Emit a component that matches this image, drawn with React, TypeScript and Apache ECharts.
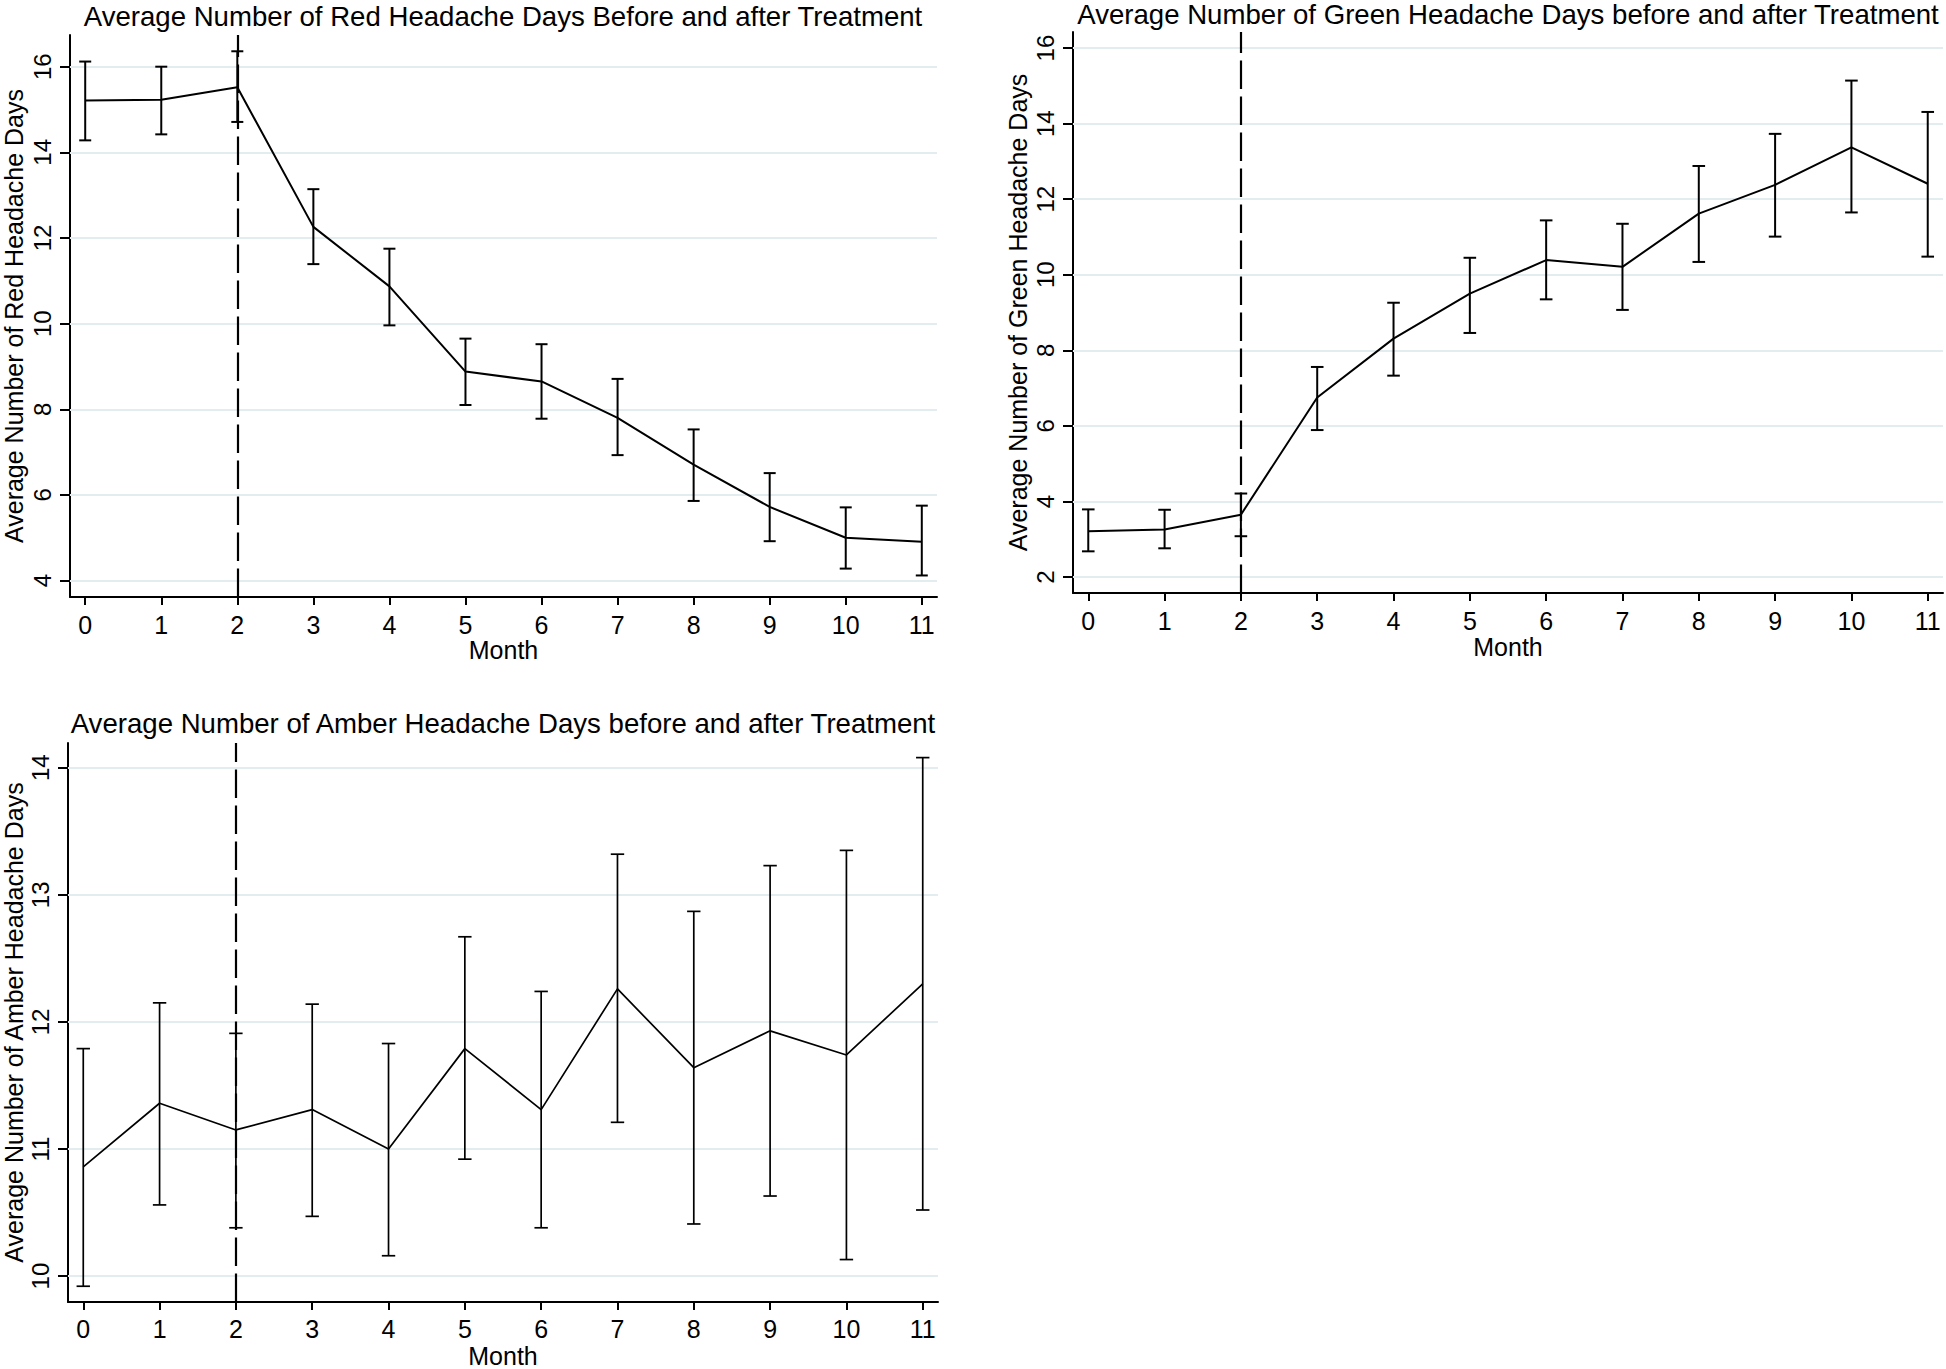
import React, { useEffect, useRef } from "react";
import * as echarts from "echarts";

const months = [0, 1, 2, 3, 4, 5, 6, 7, 8, 9, 10, 11];
const treatmentMonth = 2;

const redMean = [15.21, 15.23, 15.52, 12.26, 10.87, 8.88, 8.65, 7.8, 6.71, 5.72, 5.0, 4.91];
const redUpper = [16.12, 16.0, 16.36, 13.14, 11.75, 9.65, 9.52, 8.71, 7.53, 6.51, 5.71, 5.75];
const redLower = [14.28, 14.42, 14.71, 11.39, 9.96, 8.1, 7.78, 6.93, 5.86, 4.92, 4.28, 4.12];

const greenMean = [3.21, 3.26, 3.65, 6.75, 8.31, 9.5, 10.39, 10.21, 11.62, 12.38, 13.37, 12.41];
const greenUpper = [3.79, 3.78, 4.21, 7.56, 9.26, 10.45, 11.44, 11.35, 12.88, 13.73, 15.14, 14.31];
const greenLower = [2.68, 2.76, 3.08, 5.89, 7.33, 8.46, 9.35, 9.07, 10.34, 11.01, 11.65, 10.48];

const amberMean = [10.86, 11.36, 11.15, 11.31, 11.0, 11.79, 11.31, 12.26, 11.64, 11.93, 11.74, 12.3];
const amberUpper = [11.79, 12.15, 11.91, 12.14, 11.83, 12.67, 12.24, 13.32, 12.87, 13.23, 13.35, 14.08];
const amberLower = [9.92, 10.56, 10.38, 10.47, 10.16, 10.92, 10.38, 11.21, 10.41, 10.63, 10.13, 10.52];

const redTicks = [4, 6, 8, 10, 12, 14, 16];
const greenTicks = [2, 4, 6, 8, 10, 12, 14, 16];
const amberTicks = [10, 11, 12, 13, 14];

const redTitle = "Average Number of Red Headache Days Before and after Treatment";
const greenTitle = "Average Number of Green Headache Days before and after Treatment";
const amberTitle = "Average Number of Amber Headache Days before and after Treatment";
const redYName = "Average Number of Red Headache Days";
const greenYName = "Average Number of Green Headache Days";
const amberYName = "Average Number of Amber Headache Days";
const xName = "Month";

const FONT = "'Liberation Sans', Arial, Helvetica, sans-serif";

const panels = [
  {
    title: redTitle, yName: redYName, mean: redMean, upper: redUpper, lower: redLower, ticks: redTicks,
    yMin: 3.617, yMax: 16.74,
    grid: { left: 68, top: 35, width: 869, height: 562 },
    titleX: 503, titleY: 16, yNameGap: 44, xNameGap: 38.5, xLabelMargin: 15, lw: 2, cap: 6,
  },
  {
    title: greenTitle, yName: greenYName, mean: greenMean, upper: greenUpper, lower: greenLower, ticks: greenTicks,
    yMin: 1.577, yMax: 16.426,
    grid: { left: 1073, top: 32, width: 870, height: 561 },
    titleX: 1508, titleY: 14.5, yNameGap: 43, xNameGap: 40.5, xLabelMargin: 15.5, lw: 2, cap: 6.3,
  },
  {
    title: amberTitle, yName: amberYName, mean: amberMean, upper: amberUpper, lower: amberLower, ticks: amberTicks,
    yMin: 9.796, yMax: 14.195,
    grid: { left: 68, top: 743, width: 870, height: 559 },
    titleX: 503, titleY: 723.5, yNameGap: 42, xNameGap: 41, xLabelMargin: 14, lw: 1.7, cap: 6.7,
  },
];

function buildOption() {
  const grid: any[] = [];
  const xAxis: any[] = [];
  const yAxis: any[] = [];
  const series: any[] = [];
  const graphic: any[] = [];

  panels.forEach((p, i) => {
    grid.push({ ...p.grid, containLabel: false });
    xAxis.push({
      type: "value",
      gridIndex: i,
      min: -0.2,
      max: 11.2,
      name: xName,
      nameLocation: "middle",
      nameGap: p.xNameGap,
      nameTextStyle: { fontSize: 25, color: "#000", fontFamily: FONT },
      axisLine: { show: true, onZero: false, lineStyle: { color: "#000", width: 2 } },
      axisTick: { show: true, customValues: months, length: 8, lineStyle: { color: "#000", width: 2 } },
      axisLabel: { customValues: months, margin: p.xLabelMargin, fontSize: 25, color: "#000", fontFamily: FONT },
      splitLine: { show: false },
    });
    yAxis.push({
      type: "value",
      gridIndex: i,
      min: p.yMin,
      max: p.yMax,
      name: p.yName,
      nameLocation: "middle",
      nameGap: p.yNameGap,
      nameTextStyle: { fontSize: 25, color: "#000", fontFamily: FONT },
      axisLine: { show: true, onZero: false, lineStyle: { color: "#000", width: 2 } },
      axisTick: { show: true, customValues: p.ticks, length: 10, lineStyle: { color: "#000", width: 2 } },
      axisLabel: { customValues: p.ticks, rotate: 90, margin: 16, fontSize: 24, color: "#000", fontFamily: FONT },
      splitLine: { show: false },
    });

    // gridlines
    series.push({
      type: "line",
      xAxisIndex: i,
      yAxisIndex: i,
      data: [],
      z: 1,
      silent: true,
      markLine: {
        z: 1,
        silent: true,
        symbol: ["none", "none"],
        label: { show: false },
        emphasis: { disabled: true },
        lineStyle: { color: "#e3edf0", width: 2, type: "solid" },
        data: p.ticks.map((t) => ({ yAxis: t })),
      },
    });
    // treatment dashed line
    series.push({
      type: "line",
      xAxisIndex: i,
      yAxisIndex: i,
      data: [],
      z: 2,
      silent: true,
      markLine: {
        z: 2,
        silent: true,
        symbol: ["none", "none"],
        label: { show: false },
        emphasis: { disabled: true },
        lineStyle: { color: "#000", width: 2.2, type: [28.5, 7.5] },
        data: [{ xAxis: treatmentMonth }],
      },
    });
    // error bars
    const cap = p.cap;
    const lw = p.lw;
    series.push({
      type: "custom",
      xAxisIndex: i,
      yAxisIndex: i,
      z: 3,
      silent: true,
      encode: { x: 0, y: [1, 2] },
      data: months.map((m, k) => [m, p.lower[k], p.upper[k]]),
      renderItem: (params: any, api: any) => {
        const x = api.value(0);
        const lo = api.coord([x, api.value(1)]);
        const hi = api.coord([x, api.value(2)]);
        const style = { stroke: "#000", lineWidth: lw };
        return {
          type: "group",
          children: [
            { type: "line", shape: { x1: hi[0], y1: hi[1], x2: lo[0], y2: lo[1] }, style },
            { type: "line", shape: { x1: hi[0] - cap, y1: hi[1], x2: hi[0] + cap, y2: hi[1] }, style },
            { type: "line", shape: { x1: lo[0] - cap, y1: lo[1], x2: lo[0] + cap, y2: lo[1] }, style },
          ],
        };
      },
    });
    // mean line
    series.push({
      type: "line",
      xAxisIndex: i,
      yAxisIndex: i,
      z: 4,
      symbol: "none",
      silent: true,
      lineStyle: { color: "#000", width: lw },
      data: months.map((m, k) => [m, p.mean[k]]),
    });

    graphic.push({
      type: "text",
      x: p.titleX,
      y: p.titleY,
      silent: true,
      style: {
        text: p.title,
        align: "center",
        verticalAlign: "middle",
        fill: "#000",
        font: `27.6px ${FONT}`,
      },
    });
  });

  return {
    animation: false,
    backgroundColor: "#ffffff",
    textStyle: { fontFamily: FONT },
    grid,
    xAxis,
    yAxis,
    series,
    graphic,
  };
}

export default function App() {
  const ref = useRef<HTMLDivElement>(null);
  useEffect(() => {
    if (!ref.current) return;
    const chart = echarts.init(ref.current, undefined, { renderer: "svg" });
    chart.setOption(buildOption() as any);
    return () => chart.dispose();
  }, []);
  return (
    <div
      ref={ref}
      style={{ position: "absolute", left: 0, top: 0, width: 1946, height: 1369, background: "#fff" }}
    />
  );
}
